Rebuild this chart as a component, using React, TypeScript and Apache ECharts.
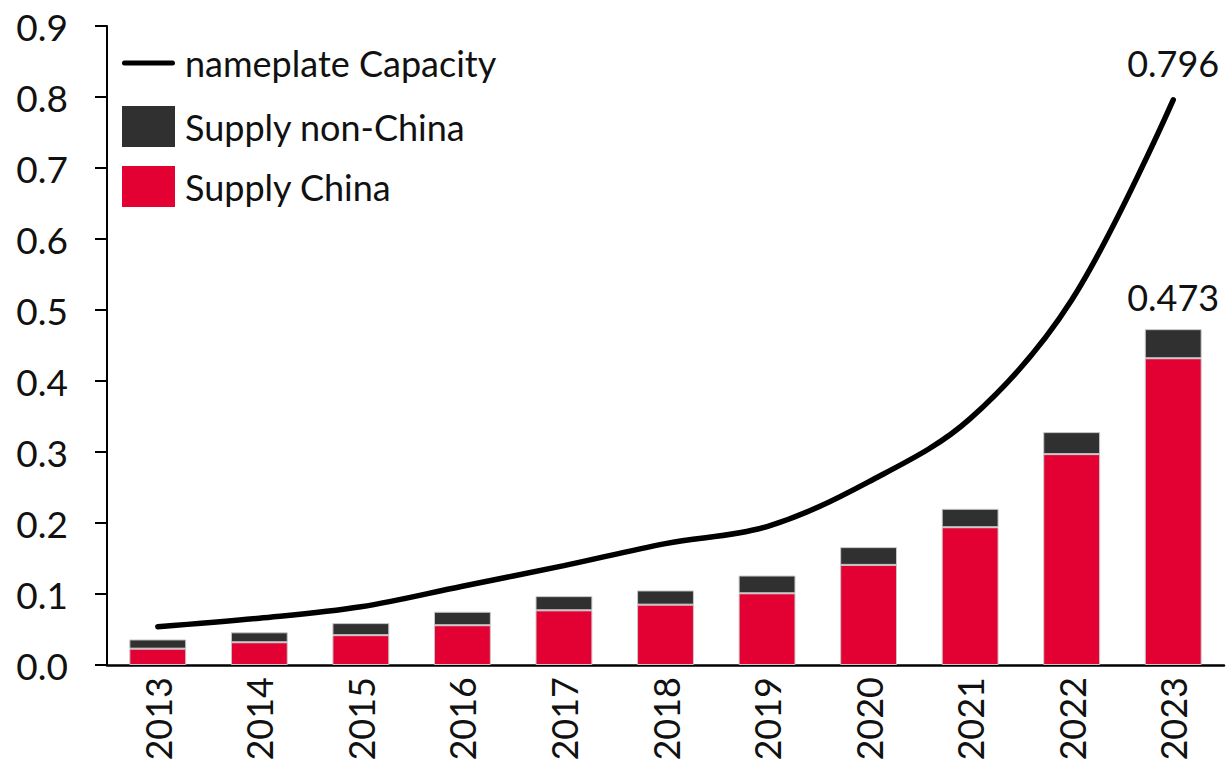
import React, { useEffect, useRef } from "react";
import * as echarts from "echarts";

const years = ["2013", "2014", "2015", "2016", "2017", "2018", "2019", "2020", "2021", "2022", "2023"];
const supplyChina = [0.023, 0.032, 0.042, 0.056, 0.077, 0.085, 0.101, 0.141, 0.194, 0.297, 0.432];
const supplyNonChina = [0.013, 0.014, 0.017, 0.019, 0.020, 0.020, 0.025, 0.025, 0.026, 0.031, 0.041];
const capacity = [0.054, 0.066, 0.082, 0.111, 0.140, 0.171, 0.195, 0.258, 0.347, 0.514, 0.796];
const yTicks = { min: 0, max: 0.9, interval: 0.1 };

const FONT = "Lato";
const TEXT = "#111111";
const RED = "#E30033";
const DARK = "#303030";

export default function App() {
  const ref = useRef<HTMLDivElement>(null);
  useEffect(() => {
    if (!ref.current) return;
    const chart = echarts.init(ref.current, null, { renderer: "svg" });
    const last = years.length - 1;
    const totalLast = supplyChina[last] + supplyNonChina[last];
    const legendBase = {
      orient: "vertical",
      left: 117,
      itemWidth: 53,
      itemHeight: 41,
      itemGap: 19,
      textStyle: { fontFamily: FONT, fontSize: 36, color: TEXT, padding: [0, 0, 0, 5] },
    };
    chart.setOption({
      animation: false,
      backgroundColor: "#ffffff",
      textStyle: { fontFamily: FONT, color: TEXT },
      grid: { left: 107, right: 4, top: 26, bottom: 103, containLabel: false },
      legend: [
        {
          ...legendBase,
          top: 40,
          data: [
            {
              name: "nameplate Capacity",
              icon: "path://M2.5,0 L50.5,0 A2.5,2.5 0 0 1 50.5,5 L2.5,5 A2.5,2.5 0 0 1 2.5,0 Z",
              itemStyle: { color: "#000000", borderWidth: 0 },
            },
          ],
        },
        {
          ...legendBase,
          top: 101,
          data: [
            { name: "Supply non-China", icon: "rect", itemStyle: { color: DARK, borderWidth: 0 } },
            { name: "Supply China", icon: "rect", itemStyle: { color: RED, borderWidth: 0 } },
          ],
        },
      ],
      xAxis: {
        type: "category",
        data: years,
        boundaryGap: true,
        axisLine: { show: true, lineStyle: { color: "#000000", width: 2.5 } },
        axisTick: { show: false },
        axisLabel: { rotate: 90, fontSize: 36, color: TEXT, fontFamily: FONT, margin: 12 },
        splitLine: { show: false },
      },
      yAxis: {
        type: "value",
        min: yTicks.min,
        max: yTicks.max,
        interval: yTicks.interval,
        axisLine: { show: true, lineStyle: { color: "#000000", width: 2 } },
        axisTick: { show: true, length: 12, lineStyle: { color: "#000000", width: 2 } },
        axisLabel: {
          fontSize: 37,
          color: TEXT,
          fontFamily: FONT,
          margin: 39,
          formatter: (v: number) => v.toFixed(1),
        },
        splitLine: { show: false },
      },
      series: [
        {
          name: "Supply China",
          type: "bar",
          stack: "supply",
          barWidth: "56%",
          itemStyle: { color: RED, borderColor: "#c8c8c8", borderWidth: 1 },
          data: supplyChina,
          z: 2,
        },
        {
          name: "Supply non-China",
          type: "bar",
          stack: "supply",
          barWidth: "56%",
          itemStyle: { color: DARK, borderColor: "#c8c8c8", borderWidth: 1 },
          data: supplyNonChina.map((v, i) =>
            i === last
              ? {
                  value: v,
                  label: {
                    show: true,
                    position: "top",
                    distance: 14,
                    fontSize: 36,
                    color: TEXT,
                    fontFamily: FONT,
                    formatter: () => totalLast.toFixed(3),
                  },
                }
              : v
          ),
          z: 2,
        },
        {
          name: "nameplate Capacity",
          type: "line",
          smooth: 0.35,
          symbol: "none",
          lineStyle: { color: "#000000", width: 5.5, cap: "round" },
          itemStyle: { color: "#000000" },
          data: capacity.map((v, i) =>
            i === last
              ? {
                  value: v,
                  symbol: "circle",
                  symbolSize: 1,
                  label: {
                    show: true,
                    position: "top",
                    distance: 18,
                    fontSize: 36,
                    color: TEXT,
                    fontFamily: FONT,
                    formatter: () => v.toFixed(3),
                  },
                }
              : v
          ),
          z: 5,
        },
      ],
    });
    return () => chart.dispose();
  }, []);
  return (
    <div
      ref={ref}
      style={{ position: "fixed", left: 0, top: 0, width: 1228, height: 768, background: "#fff" }}
    />
  );
}
